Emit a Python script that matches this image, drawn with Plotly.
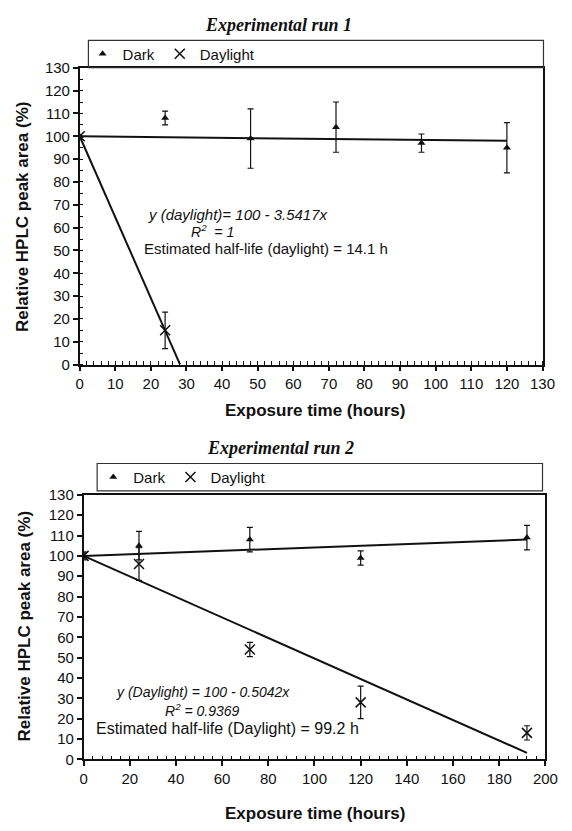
import plotly.graph_objects as go

W, H = 572, 831

# ---------------- data: run 1 ----------------
r1_dark_x = [0, 24, 48, 72, 96, 120]
r1_dark_y = [100, 108, 99, 104, 97, 95]
r1_dark_err = [0, 3, 13, 11, 4, 11]
r1_day_x = [0, 24]
r1_day_y = [100, 15]
r1_day_err = [0, 8]
r1_dark_fit_x = [0, 120]
r1_dark_fit_y = [100, 98]
r1_day_fit_x = [0, 28.2]
r1_day_fit_y = [100, 0]

# ---------------- data: run 2 ----------------
r2_dark_x = [0, 24, 72, 120, 192]
r2_dark_y = [100, 105, 108, 99, 109]
r2_dark_err = [1.5, 7, 6, 3.5, 6]
r2_day_x = [0, 24, 72, 120, 192]
r2_day_y = [100, 96, 54, 28, 13]
r2_day_err = [2, 8, 3.5, 8, 3.5]
r2_dark_fit_x = [0, 192]
r2_dark_fit_y = [100, 108]
r2_day_fit_x = [0, 192]
r2_day_fit_y = [100, 3.2]

x1_ticks = list(range(0, 131, 10))
y_ticks = list(range(0, 131, 10))
x2_ticks = list(range(0, 201, 20))


def px_x(p):
    return p / W


def px_y(p):
    return 1 - p / H


FONT = "Liberation Sans, Arial, sans-serif"
SERIF = "Liberation Serif, Times New Roman, serif"
BLACK = "#111111"

fig = go.Figure()


def add_run(xa, ya, dx, dy, derr, ux, uy, uerr, dfx, dfy, ufx, ufy, leg):
    fig.add_trace(go.Scatter(x=dfx, y=dfy, mode="lines", line=dict(color=BLACK, width=2),
                             xaxis=xa, yaxis=ya, showlegend=False, hoverinfo="skip"))
    fig.add_trace(go.Scatter(x=ufx, y=ufy, mode="lines", line=dict(color=BLACK, width=2),
                             xaxis=xa, yaxis=ya, showlegend=False, hoverinfo="skip"))
    fig.add_trace(go.Scatter(x=dx, y=dy, mode="markers", name="Dark",
                             marker=dict(symbol="triangle-up", size=7, color=BLACK),
                             error_y=dict(type="data", array=derr, color=BLACK, thickness=1.2, width=3),
                             xaxis=xa, yaxis=ya, legend=leg))
    fig.add_trace(go.Scatter(x=ux, y=uy, mode="markers", name="Daylight",
                             marker=dict(symbol="x-thin", size=10, color=BLACK,
                                         line=dict(color=BLACK, width=1.5)),
                             error_y=dict(type="data", array=uerr, color=BLACK, thickness=1.2, width=3),
                             xaxis=xa, yaxis=ya, legend=leg))


add_run("x", "y", r1_dark_x, r1_dark_y, r1_dark_err, r1_day_x, r1_day_y, r1_day_err,
        r1_dark_fit_x, r1_dark_fit_y, r1_day_fit_x, r1_day_fit_y, "legend")
add_run("x2", "y2", r2_dark_x, r2_dark_y, r2_dark_err, r2_day_x, r2_day_y, r2_day_err,
        r2_dark_fit_x, r2_dark_fit_y, r2_day_fit_x, r2_day_fit_y, "legend2")

tickfont = dict(family=FONT, size=15, color=BLACK)
axis_common = dict(showline=True, linecolor=BLACK, linewidth=1.5, mirror=True,
                   showgrid=False, zeroline=False, ticks="outside", ticklen=5,
                   tickcolor=BLACK, tickwidth=1.5, tickfont=tickfont)

legfont = dict(family=FONT, size=15, color=BLACK)

fig.update_layout(
    width=W, height=H, margin=dict(l=0, r=0, t=0, b=0),
    paper_bgcolor="white", plot_bgcolor="white",
    xaxis=dict(domain=[px_x(78), px_x(555)], range=[0, 130], tickvals=x1_ticks,
               anchor="y", minor=dict(dtick=2, ticks="inside", ticklen=4, tickcolor=BLACK, tickwidth=1.2),
               **axis_common),
    yaxis=dict(domain=[px_y(363), px_y(60)], range=[0, 130], tickvals=y_ticks,
               anchor="x", minor=dict(dtick=5, ticks="inside", ticklen=4, tickcolor=BLACK, tickwidth=1.2),
               **axis_common),
    xaxis2=dict(domain=[px_x(82), px_x(558)], range=[0, 200], tickvals=x2_ticks,
                anchor="y2", minor=dict(dtick=4, ticks="inside", ticklen=4, tickcolor=BLACK, tickwidth=1.2),
                **axis_common),
    yaxis2=dict(domain=[px_y(766), px_y(496)], range=[0, 130], tickvals=y_ticks,
                anchor="x2", **axis_common),
    legend=dict(orientation="h", x=px_x(81), y=px_y(46), xanchor="left", yanchor="middle",
                font=legfont, bgcolor="rgba(0,0,0,0)", itemwidth=30, tracegroupgap=0),
    legend2=dict(orientation="h", x=px_x(92), y=px_y(478), xanchor="left", yanchor="middle",
                 font=legfont, bgcolor="rgba(0,0,0,0)", itemwidth=30, tracegroupgap=0),
    shapes=[
        dict(type="rect", xref="paper", yref="paper", x0=px_x(87), x1=px_x(556), y0=px_y(60), y1=px_y(32),
             line=dict(color="#333333", width=1.2)),
        dict(type="rect", xref="paper", yref="paper", x0=px_x(96), x1=px_x(555), y0=px_y(492), y1=px_y(464),
             line=dict(color="#333333", width=1.2)),
    ],
)

ann = []


def text(xp, yp, s, size=13, italic=False, bold=False, family=FONT, angle=0):
    st = "italic" if italic else "normal"
    ann.append(dict(xref="paper", yref="paper", x=px_x(xp), y=px_y(yp), text=s, showarrow=False,
                    xanchor="center", yanchor="middle", textangle=angle,
                    font=dict(family=family, size=size, color=BLACK, style=st,
                              weight="bold" if bold else "normal")))


text(283, 16, "Experimental run 1", size=18, italic=True, bold=True, family=SERIF)
text(285, 448, "Experimental run 2", size=18, italic=True, bold=True, family=SERIF)
text(321, 410, "Exposure time (hours)", size=17, bold=True)
text(321, 821, "Exposure time (hours)", size=17, bold=True)
text(19, 212, "Relative HPLC peak area (%)", size=17, bold=True, angle=-90)
text(21, 630, "Relative HPLC peak area (%)", size=17, bold=True, angle=-90)

text(241, 210, "y (daylight)= 100 - 3.5417x", size=15, italic=True)
text(215, 227, "R<sup>2</sup>  = 1", size=14, italic=True)
text(270, 245, "Estimated half-life (daylight) = 14.1 h", size=15)

text(205, 697, "y (Daylight) = 100 - 0.5042x", size=14, italic=True)
text(205, 716, "R<sup>2</sup> = 0.9369", size=14, italic=True)
text(230, 735, "Estimated half-life (Daylight) = 99.2 h", size=16)

fig.update_layout(annotations=ann)

fig.write_html("out.html")
